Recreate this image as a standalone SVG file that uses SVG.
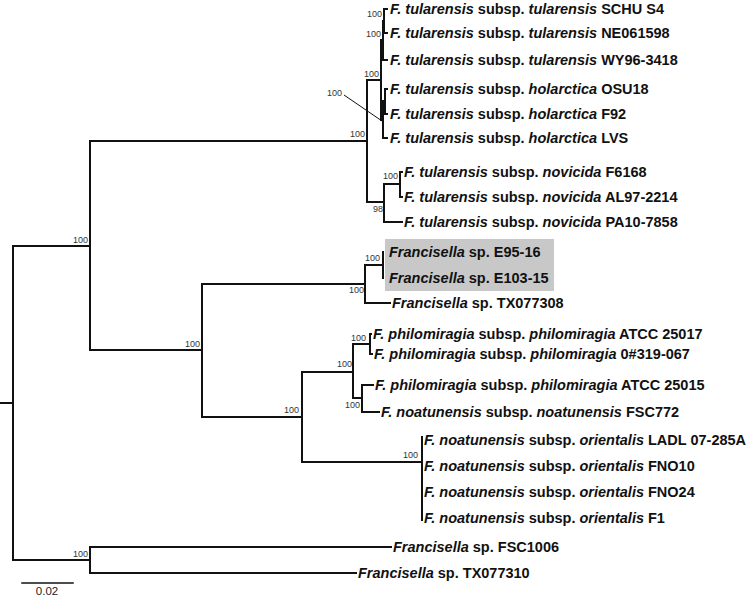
<svg xmlns="http://www.w3.org/2000/svg" width="750" height="598" viewBox="0 0 750 598">
<style>
.br{fill:none;stroke:#111;stroke-width:2;stroke-linecap:square}
.ld{stroke:#111;stroke-width:1}
.tip{font-family:"Liberation Sans",Arial,sans-serif;font-size:14.5px;font-weight:bold;fill:#111}
.i{font-style:italic}
.bs{font-family:"Liberation Sans",Arial,sans-serif;font-size:9px;fill:#333;text-anchor:end}
.sc{font-family:"Liberation Sans",Arial,sans-serif;font-size:11.5px;fill:#222;text-anchor:middle}
</style>
<rect id="highlight" x="385" y="239" width="169" height="52" fill="#c8c8c8"/>
<g id="connectors">
<path class="br" d="M0 403H13M13 246V560M13 246H90M13 560H90M90 142V350M90 547V573M90 547H391M90 573H356"/>
<path class="br" d="M90 141H367M367 80V202M367 80H381M381 40V120M381 40H383M383 21V60M383 21H384M384 9V33M384 9H387M384 33H387M383 60H387M381 120H383M383 101V138M383 101H385M385 89V114M385 89H387M385 114H387M383 138H387"/>
<path class="br" d="M367 202H384M384 184V222M384 184H400M400 172V197M400 172H402M400 197H402M384 222H402"/>
<path class="br" d="M90 350H202M202 284V417M202 284H365M365 265V303M365 265H383M383 252V278M365 303H390"/>
<path class="br" d="M202 417H302M302 372V462M302 372H353M353 344V398M353 344H370M370 334V354M370 334H371M370 354H372M353 398H362M362 385V412M362 385H373M362 412H379M302 462H422M422 437V520"/>
<line class="ld" x1="344" y1="95" x2="382" y2="121"/>
<path class="br" d="M22 583H73" style="stroke-width:1.5"/>
</g>
<g id="support">
<text class="bs" x="88" y="243">100</text>
<text class="bs" x="88" y="557">100</text>
<text class="bs" x="365" y="137">100</text>
<text class="bs" x="379" y="77">100</text>
<text class="bs" x="381" y="37">100</text>
<text class="bs" x="382" y="17">100</text>
<text class="bs" x="342" y="96">100</text>
<text class="bs" x="383" y="212">98</text>
<text class="bs" x="398" y="179">100</text>
<text class="bs" x="200" y="347">100</text>
<text class="bs" x="364" y="293">100</text>
<text class="bs" x="380" y="261">100</text>
<text class="bs" x="299" y="413">100</text>
<text class="bs" x="352" y="367">100</text>
<text class="bs" x="366" y="341">100</text>
<text class="bs" x="360" y="408">100</text>
<text class="bs" x="418" y="458">100</text>
</g>
<g id="t1"><text class="tip" x="390" y="14"><tspan class="i">F. tularensis</tspan> subsp. <tspan class="i">tularensis</tspan> SCHU S4</text></g>
<g id="t2"><text class="tip" x="390" y="38"><tspan class="i">F. tularensis</tspan> subsp. <tspan class="i">tularensis</tspan> NE061598</text></g>
<g id="t3"><text class="tip" x="390" y="65"><tspan class="i">F. tularensis</tspan> subsp. <tspan class="i">tularensis</tspan> WY96-3418</text></g>
<g id="t4"><text class="tip" x="390" y="94"><tspan class="i">F. tularensis</tspan> subsp. <tspan class="i">holarctica</tspan> OSU18</text></g>
<g id="t5"><text class="tip" x="390" y="119"><tspan class="i">F. tularensis</tspan> subsp. <tspan class="i">holarctica</tspan> F92</text></g>
<g id="t6"><text class="tip" x="390" y="143"><tspan class="i">F. tularensis</tspan> subsp. <tspan class="i">holarctica</tspan> LVS</text></g>
<g id="t7"><text class="tip" x="404" y="177"><tspan class="i">F. tularensis</tspan> subsp. <tspan class="i">novicida</tspan> F6168</text></g>
<g id="t8"><text class="tip" x="404" y="202"><tspan class="i">F. tularensis</tspan> subsp. <tspan class="i">novicida</tspan> AL97-2214</text></g>
<g id="t9"><text class="tip" x="404" y="227"><tspan class="i">F. tularensis</tspan> subsp. <tspan class="i">novicida</tspan> PA10-7858</text></g>
<g id="t10"><text class="tip" x="389" y="257"><tspan class="i">Francisella</tspan> sp. E95-16</text></g>
<g id="t11"><text class="tip" x="389" y="283"><tspan class="i">Francisella</tspan> sp. E103-15</text></g>
<g id="t12"><text class="tip" x="392" y="308"><tspan class="i">Francisella</tspan> sp. TX077308</text></g>
<g id="t13"><text class="tip" x="373" y="339"><tspan class="i">F. philomiragia</tspan> subsp. <tspan class="i">philomiragia</tspan> ATCC 25017</text></g>
<g id="t14"><text class="tip" x="374" y="359"><tspan class="i">F. philomiragia</tspan> subsp. <tspan class="i">philomiragia</tspan> 0#319-067</text></g>
<g id="t15"><text class="tip" x="375" y="390"><tspan class="i">F. philomiragia</tspan> subsp. <tspan class="i">philomiragia</tspan> ATCC 25015</text></g>
<g id="t16"><text class="tip" x="381" y="417"><tspan class="i">F. noatunensis</tspan> subsp. <tspan class="i">noatunensis</tspan> FSC772</text></g>
<g id="t17"><text class="tip" x="424" y="445"><tspan class="i">F. noatunensis</tspan> subsp. <tspan class="i">orientalis</tspan> LADL 07-285A</text></g>
<g id="t18"><text class="tip" x="424" y="471"><tspan class="i">F. noatunensis</tspan> subsp. <tspan class="i">orientalis</tspan> FNO10</text></g>
<g id="t19"><text class="tip" x="424" y="497"><tspan class="i">F. noatunensis</tspan> subsp. <tspan class="i">orientalis</tspan> FNO24</text></g>
<g id="t20"><text class="tip" x="424" y="523"><tspan class="i">F. noatunensis</tspan> subsp. <tspan class="i">orientalis</tspan> F1</text></g>
<g id="t21"><text class="tip" x="393" y="552"><tspan class="i">Francisella</tspan> sp. FSC1006</text></g>
<g id="t22"><text class="tip" x="358" y="578"><tspan class="i">Francisella</tspan> sp. TX077310</text></g>
<g id="scale"><text class="sc" x="47" y="595">0.02</text></g>
</svg>
